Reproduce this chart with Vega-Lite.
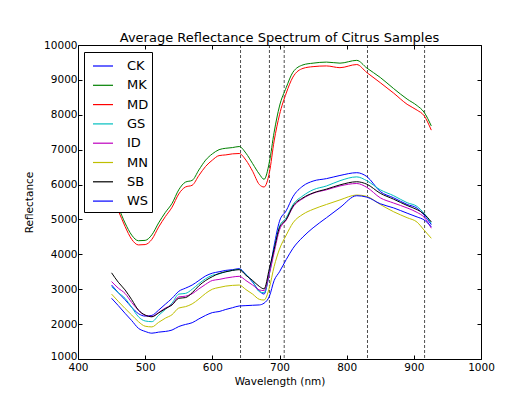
{
 "$schema": "https://vega.github.io/schema/vega-lite/v6.json",
 "width": 403, "height": 314,
 "autosize": "none",
 "padding": {"left": 78, "top": 45, "right": 39, "bottom": 35},
 "background": "white",
 "title": {"text": "Average Reflectance Spectrum of Citrus Samples", "font": "DejaVu Sans", "fontSize": 13, "fontWeight": "normal", "color": "black", "baseline": "alphabetic", "offset": -14.5},
 "config": {
  "view": {"stroke": "black", "strokeWidth": 1},
  "axis": {"domain": false, "grid": false, "tickColor": "black", "tickSize": -4, "tickWidth": 1, "labelColor": "black", "labelFont": "DejaVu Sans", "labelFontSize": 10.5, "labelFlush": false, "labelOverlap": false, "format": "d", "titleFont": "DejaVu Sans", "titleFontSize": 10.5, "titleFontWeight": "normal", "titleColor": "black"}
 },
 "datasets": {
  "spec": [
   {"w":450,"s":"CK","v":3120},{"w":460,"s":"CK","v":2900},{"w":470,"s":"CK","v":2700},{"w":480,"s":"CK","v":2480},{"w":490,"s":"CK","v":2300},{"w":500,"s":"CK","v":2230},{"w":510,"s":"CK","v":2250},{"w":520,"s":"CK","v":2400},{"w":530,"s":"CK","v":2570},{"w":540,"s":"CK","v":2740},{"w":550,"s":"CK","v":2940},{"w":560,"s":"CK","v":3030},{"w":570,"s":"CK","v":3120},{"w":580,"s":"CK","v":3250},{"w":590,"s":"CK","v":3380},{"w":600,"s":"CK","v":3460},{"w":610,"s":"CK","v":3500},{"w":620,"s":"CK","v":3540},{"w":630,"s":"CK","v":3560},{"w":640,"s":"CK","v":3590},{"w":650,"s":"CK","v":3420},{"w":660,"s":"CK","v":3200},{"w":670,"s":"CK","v":2950},{"w":677,"s":"CK","v":2860},{"w":685,"s":"CK","v":3500},{"w":692,"s":"CK","v":4250},{"w":700,"s":"CK","v":4950},{"w":710,"s":"CK","v":5250},{"w":720,"s":"CK","v":5650},{"w":735,"s":"CK","v":5960},{"w":750,"s":"CK","v":6100},{"w":770,"s":"CK","v":6170},{"w":790,"s":"CK","v":6260},{"w":815,"s":"CK","v":6340},{"w":830,"s":"CK","v":6230},{"w":850,"s":"CK","v":5800},{"w":870,"s":"CK","v":5620},{"w":890,"s":"CK","v":5430},{"w":905,"s":"CK","v":5320},{"w":915,"s":"CK","v":5130},{"w":926,"s":"CK","v":4850},
   {"w":450,"s":"MK","v":5750},{"w":460,"s":"MK","v":5350},{"w":470,"s":"MK","v":4900},{"w":480,"s":"MK","v":4550},{"w":490,"s":"MK","v":4390},{"w":500,"s":"MK","v":4400},{"w":510,"s":"MK","v":4560},{"w":520,"s":"MK","v":4900},{"w":530,"s":"MK","v":5200},{"w":540,"s":"MK","v":5460},{"w":550,"s":"MK","v":5850},{"w":560,"s":"MK","v":6070},{"w":570,"s":"MK","v":6120},{"w":580,"s":"MK","v":6420},{"w":590,"s":"MK","v":6700},{"w":600,"s":"MK","v":6880},{"w":610,"s":"MK","v":7000},{"w":620,"s":"MK","v":7040},{"w":630,"s":"MK","v":7060},{"w":640,"s":"MK","v":7090},{"w":650,"s":"MK","v":6900},{"w":660,"s":"MK","v":6600},{"w":670,"s":"MK","v":6300},{"w":677,"s":"MK","v":6150},{"w":685,"s":"MK","v":6650},{"w":692,"s":"MK","v":7500},{"w":700,"s":"MK","v":8250},{"w":710,"s":"MK","v":8780},{"w":720,"s":"MK","v":9220},{"w":735,"s":"MK","v":9430},{"w":750,"s":"MK","v":9480},{"w":770,"s":"MK","v":9510},{"w":790,"s":"MK","v":9480},{"w":815,"s":"MK","v":9560},{"w":830,"s":"MK","v":9340},{"w":850,"s":"MK","v":9070},{"w":870,"s":"MK","v":8750},{"w":890,"s":"MK","v":8450},{"w":905,"s":"MK","v":8260},{"w":915,"s":"MK","v":8080},{"w":926,"s":"MK","v":7680},
   {"w":450,"s":"MD","v":5650},{"w":460,"s":"MD","v":5250},{"w":470,"s":"MD","v":4800},{"w":480,"s":"MD","v":4430},{"w":490,"s":"MD","v":4270},{"w":500,"s":"MD","v":4280},{"w":510,"s":"MD","v":4430},{"w":520,"s":"MD","v":4780},{"w":530,"s":"MD","v":5080},{"w":540,"s":"MD","v":5350},{"w":550,"s":"MD","v":5730},{"w":560,"s":"MD","v":5930},{"w":570,"s":"MD","v":5980},{"w":580,"s":"MD","v":6260},{"w":590,"s":"MD","v":6520},{"w":600,"s":"MD","v":6700},{"w":610,"s":"MD","v":6830},{"w":620,"s":"MD","v":6850},{"w":630,"s":"MD","v":6880},{"w":640,"s":"MD","v":6890},{"w":650,"s":"MD","v":6700},{"w":660,"s":"MD","v":6380},{"w":670,"s":"MD","v":6000},{"w":677,"s":"MD","v":5930},{"w":685,"s":"MD","v":6350},{"w":692,"s":"MD","v":7250},{"w":700,"s":"MD","v":8000},{"w":710,"s":"MD","v":8620},{"w":720,"s":"MD","v":9080},{"w":735,"s":"MD","v":9330},{"w":750,"s":"MD","v":9380},{"w":770,"s":"MD","v":9400},{"w":790,"s":"MD","v":9350},{"w":815,"s":"MD","v":9440},{"w":830,"s":"MD","v":9210},{"w":850,"s":"MD","v":8920},{"w":870,"s":"MD","v":8620},{"w":890,"s":"MD","v":8300},{"w":905,"s":"MD","v":8130},{"w":915,"s":"MD","v":7980},{"w":926,"s":"MD","v":7560},
   {"w":450,"s":"GS","v":3070},{"w":460,"s":"GS","v":2900},{"w":470,"s":"GS","v":2740},{"w":480,"s":"GS","v":2480},{"w":490,"s":"GS","v":2210},{"w":500,"s":"GS","v":2090},{"w":510,"s":"GS","v":2070},{"w":520,"s":"GS","v":2250},{"w":530,"s":"GS","v":2420},{"w":540,"s":"GS","v":2600},{"w":550,"s":"GS","v":2860},{"w":560,"s":"GS","v":2880},{"w":570,"s":"GS","v":3000},{"w":580,"s":"GS","v":3160},{"w":590,"s":"GS","v":3300},{"w":600,"s":"GS","v":3400},{"w":610,"s":"GS","v":3440},{"w":620,"s":"GS","v":3500},{"w":630,"s":"GS","v":3540},{"w":640,"s":"GS","v":3570},{"w":650,"s":"GS","v":3420},{"w":660,"s":"GS","v":3220},{"w":670,"s":"GS","v":2930},{"w":677,"s":"GS","v":2900},{"w":685,"s":"GS","v":3450},{"w":692,"s":"GS","v":4150},{"w":700,"s":"GS","v":4800},{"w":710,"s":"GS","v":5050},{"w":720,"s":"GS","v":5420},{"w":735,"s":"GS","v":5680},{"w":750,"s":"GS","v":5850},{"w":770,"s":"GS","v":5960},{"w":790,"s":"GS","v":6110},{"w":815,"s":"GS","v":6220},{"w":830,"s":"GS","v":6110},{"w":850,"s":"GS","v":5850},{"w":870,"s":"GS","v":5680},{"w":890,"s":"GS","v":5480},{"w":905,"s":"GS","v":5370},{"w":915,"s":"GS","v":5180},{"w":926,"s":"GS","v":4890},
   {"w":450,"s":"ID","v":3220},{"w":460,"s":"ID","v":3030},{"w":470,"s":"ID","v":2880},{"w":480,"s":"ID","v":2620},{"w":490,"s":"ID","v":2400},{"w":500,"s":"ID","v":2250},{"w":510,"s":"ID","v":2220},{"w":520,"s":"ID","v":2330},{"w":530,"s":"ID","v":2460},{"w":540,"s":"ID","v":2560},{"w":550,"s":"ID","v":2780},{"w":560,"s":"ID","v":2800},{"w":570,"s":"ID","v":2870},{"w":580,"s":"ID","v":3010},{"w":590,"s":"ID","v":3140},{"w":600,"s":"ID","v":3250},{"w":610,"s":"ID","v":3280},{"w":620,"s":"ID","v":3320},{"w":630,"s":"ID","v":3350},{"w":640,"s":"ID","v":3370},{"w":650,"s":"ID","v":3250},{"w":660,"s":"ID","v":3120},{"w":670,"s":"ID","v":2980},{"w":677,"s":"ID","v":2960},{"w":685,"s":"ID","v":3450},{"w":692,"s":"ID","v":4050},{"w":700,"s":"ID","v":4700},{"w":710,"s":"ID","v":4980},{"w":720,"s":"ID","v":5350},{"w":735,"s":"ID","v":5600},{"w":750,"s":"ID","v":5750},{"w":770,"s":"ID","v":5850},{"w":790,"s":"ID","v":5960},{"w":815,"s":"ID","v":6030},{"w":830,"s":"ID","v":5920},{"w":850,"s":"ID","v":5620},{"w":870,"s":"ID","v":5470},{"w":890,"s":"ID","v":5330},{"w":905,"s":"ID","v":5200},{"w":915,"s":"ID","v":5070},{"w":926,"s":"ID","v":4750},
   {"w":450,"s":"MN","v":2860},{"w":460,"s":"MN","v":2650},{"w":470,"s":"MN","v":2450},{"w":480,"s":"MN","v":2260},{"w":490,"s":"MN","v":2070},{"w":500,"s":"MN","v":1940},{"w":510,"s":"MN","v":1920},{"w":520,"s":"MN","v":2050},{"w":530,"s":"MN","v":2170},{"w":540,"s":"MN","v":2270},{"w":550,"s":"MN","v":2460},{"w":560,"s":"MN","v":2500},{"w":570,"s":"MN","v":2580},{"w":580,"s":"MN","v":2720},{"w":590,"s":"MN","v":2880},{"w":600,"s":"MN","v":3000},{"w":610,"s":"MN","v":3050},{"w":620,"s":"MN","v":3090},{"w":630,"s":"MN","v":3110},{"w":640,"s":"MN","v":3120},{"w":650,"s":"MN","v":2990},{"w":660,"s":"MN","v":2860},{"w":670,"s":"MN","v":2710},{"w":677,"s":"MN","v":2690},{"w":685,"s":"MN","v":3050},{"w":692,"s":"MN","v":3650},{"w":700,"s":"MN","v":4150},{"w":710,"s":"MN","v":4550},{"w":720,"s":"MN","v":4900},{"w":735,"s":"MN","v":5150},{"w":750,"s":"MN","v":5290},{"w":770,"s":"MN","v":5430},{"w":790,"s":"MN","v":5560},{"w":815,"s":"MN","v":5700},{"w":830,"s":"MN","v":5660},{"w":850,"s":"MN","v":5430},{"w":870,"s":"MN","v":5220},{"w":890,"s":"MN","v":5050},{"w":905,"s":"MN","v":4920},{"w":915,"s":"MN","v":4700},{"w":926,"s":"MN","v":4460},
   {"w":450,"s":"SB","v":3470},{"w":460,"s":"SB","v":3200},{"w":470,"s":"SB","v":2980},{"w":480,"s":"SB","v":2700},{"w":490,"s":"SB","v":2400},{"w":500,"s":"SB","v":2260},{"w":510,"s":"SB","v":2210},{"w":520,"s":"SB","v":2320},{"w":530,"s":"SB","v":2440},{"w":540,"s":"SB","v":2550},{"w":550,"s":"SB","v":2740},{"w":560,"s":"SB","v":2760},{"w":570,"s":"SB","v":2900},{"w":580,"s":"SB","v":3100},{"w":590,"s":"SB","v":3250},{"w":600,"s":"SB","v":3360},{"w":610,"s":"SB","v":3450},{"w":620,"s":"SB","v":3500},{"w":630,"s":"SB","v":3540},{"w":640,"s":"SB","v":3560},{"w":650,"s":"SB","v":3400},{"w":660,"s":"SB","v":3250},{"w":670,"s":"SB","v":3080},{"w":677,"s":"SB","v":3010},{"w":685,"s":"SB","v":3600},{"w":692,"s":"SB","v":4150},{"w":700,"s":"SB","v":4770},{"w":710,"s":"SB","v":5000},{"w":720,"s":"SB","v":5380},{"w":735,"s":"SB","v":5620},{"w":750,"s":"SB","v":5760},{"w":770,"s":"SB","v":5870},{"w":790,"s":"SB","v":5990},{"w":815,"s":"SB","v":6080},{"w":830,"s":"SB","v":6010},{"w":850,"s":"SB","v":5750},{"w":870,"s":"SB","v":5580},{"w":890,"s":"SB","v":5400},{"w":905,"s":"SB","v":5280},{"w":915,"s":"SB","v":5160},{"w":926,"s":"SB","v":4930},
   {"w":450,"s":"WS","v":2740},{"w":460,"s":"WS","v":2530},{"w":470,"s":"WS","v":2310},{"w":480,"s":"WS","v":2100},{"w":490,"s":"WS","v":1880},{"w":500,"s":"WS","v":1790},{"w":510,"s":"WS","v":1740},{"w":520,"s":"WS","v":1770},{"w":530,"s":"WS","v":1790},{"w":540,"s":"WS","v":1830},{"w":550,"s":"WS","v":1930},{"w":560,"s":"WS","v":1990},{"w":570,"s":"WS","v":2040},{"w":580,"s":"WS","v":2150},{"w":590,"s":"WS","v":2250},{"w":600,"s":"WS","v":2330},{"w":610,"s":"WS","v":2360},{"w":620,"s":"WS","v":2420},{"w":630,"s":"WS","v":2470},{"w":640,"s":"WS","v":2520},{"w":650,"s":"WS","v":2530},{"w":660,"s":"WS","v":2540},{"w":670,"s":"WS","v":2550},{"w":677,"s":"WS","v":2600},{"w":685,"s":"WS","v":2800},{"w":692,"s":"WS","v":3250},{"w":700,"s":"WS","v":3500},{"w":710,"s":"WS","v":3850},{"w":720,"s":"WS","v":4170},{"w":735,"s":"WS","v":4500},{"w":750,"s":"WS","v":4760},{"w":770,"s":"WS","v":5050},{"w":790,"s":"WS","v":5340},{"w":815,"s":"WS","v":5680},{"w":830,"s":"WS","v":5640},{"w":850,"s":"WS","v":5450},{"w":870,"s":"WS","v":5330},{"w":890,"s":"WS","v":5180},{"w":905,"s":"WS","v":5070},{"w":915,"s":"WS","v":4990},{"w":926,"s":"WS","v":4790}
  ],
  "bands": [{"b":642},{"b":685},{"b":707},{"b":831},{"b":916}]
 },
 "layer": [
  {
   "data": {"name": "bands"},
   "mark": {"type": "rule", "color": "black", "strokeWidth": 0.7, "strokeDash": [3, 2]},
   "encoding": {
    "x": {"field": "b", "type": "quantitative", "scale": {"domain": [400, 1000], "nice": false}, "axis": {"orient": "top", "values": [400,500,600,700,800,900,1000], "labels": false, "title": null}}
   }
  },
  {
   "data": {"name": "spec"},
   "mark": {"type": "point", "opacity": 0},
   "encoding": {
    "x": {"field": "w", "type": "quantitative", "scale": {"domain": [400, 1000], "nice": false}, "axis": null},
    "y": {"field": "v", "type": "quantitative", "scale": {"domain": [1000, 10000], "nice": false, "zero": false}, "axis": {"orient": "right", "values": [1000,2000,3000,4000,5000,6000,7000,8000,9000,10000], "labels": false, "title": null}}
   }
  },
  {
   "data": {"name": "spec"},
   "mark": {"type": "line", "strokeWidth": 1, "interpolate": "monotone"},
   "encoding": {
    "x": {"field": "w", "type": "quantitative", "scale": {"domain": [400, 1000], "nice": false}, "axis": {"orient": "bottom", "values": [400,500,600,700,800,900,1000], "title": "Wavelength (nm)", "labelPadding": 7, "titlePadding": 4}},
    "y": {"field": "v", "type": "quantitative", "scale": {"domain": [1000, 10000], "nice": false, "zero": false}, "axis": {"orient": "left", "values": [1000,2000,3000,4000,5000,6000,7000,8000,9000,10000], "title": "Reflectance", "labelPadding": 5, "titlePadding": 9, "labelOffset": {"condition": {"test": "datum.value <= 1000", "value": -3}, "value": 0}}},
    "color": {"field": "s", "type": "nominal", "sort": ["CK","MK","MD","GS","ID","MN","SB","WS"],
     "scale": {"domain": ["CK","MK","MD","GS","ID","MN","SB","WS"], "range": ["#0000ff","#008000","#ff0000","#00bfbf","#bf00bf","#bfbf00","#000000","#0000ff"]},
     "legend": {"orient": "none", "legendX": 6, "legendY": 7, "title": null, "symbolType": "stroke", "symbolSize": 400, "symbolStrokeWidth": 1.2, "symbolOffset": 5, "labelFont": "DejaVu Sans", "labelFontSize": 13, "labelColor": "black", "labelOffset": 13, "padding": 3, "rowPadding": 1.3, "strokeColor": "black", "fillColor": "white", "cornerRadius": 0}}
   }
  }
 ],
 "resolve": {"axis": {"x": "independent", "y": "independent"}}
}
